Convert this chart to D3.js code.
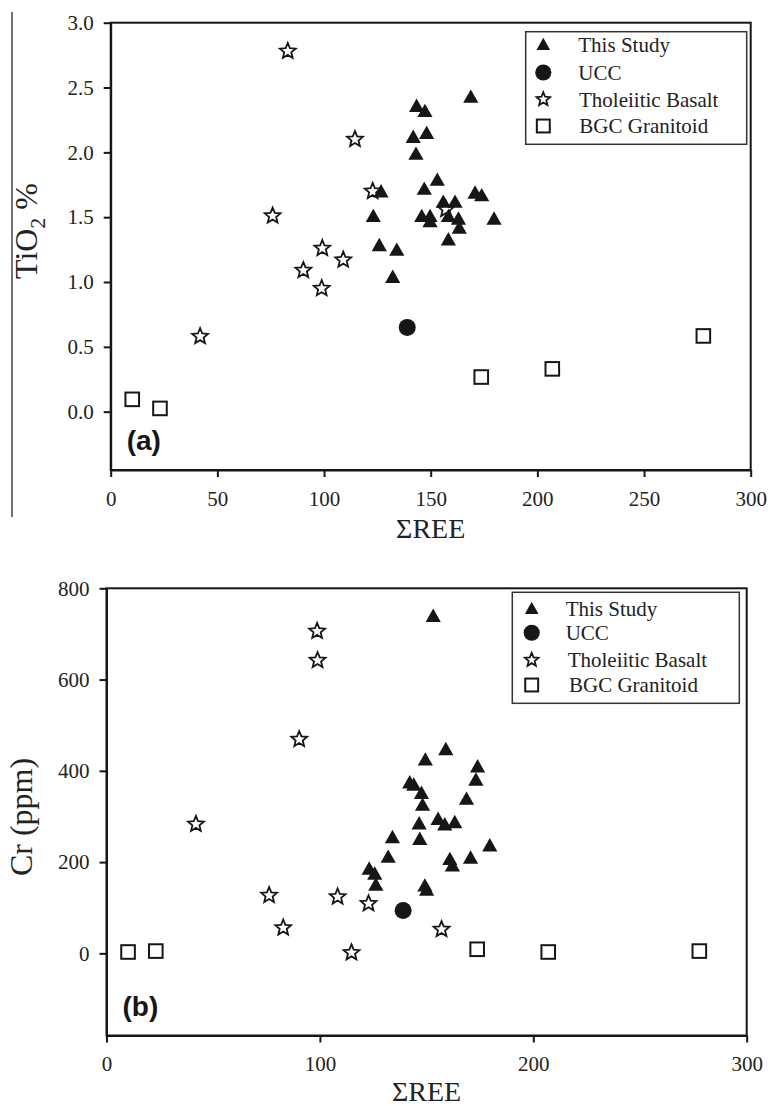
<!DOCTYPE html>
<html><head><meta charset="utf-8">
<script src="https://cdn.jsdelivr.net/npm/d3@7"></script>
<style>
body{margin:0;background:#fff;}
svg{display:block;}
</style></head><body>
<svg id="c" width="768" height="1106"></svg>
<script>
// ---------- tick labels / categories ----------
const xTicksA = [0, 50, 100, 150, 200, 250, 300];
const yTicksA = [0, 0.5, 1.0, 1.5, 2.0, 2.5, 3.0];
const xTicksB = [0, 100, 200, 300];
const yTicksB = [0, 200, 400, 600, 800];
const legendLabels = ["This Study", "UCC", "Tholeiitic Basalt", "BGC Granitoid"];

// ---------- panel (a): TiO2 % vs ΣREE ----------
const aStudyX = [143.4,147.3,141.8,148.1,143.1,126.7,147.0,153.1,123.1,145.8,149.7,149.7,125.9,134.1,132.2,155.9,161.4,158.3,163.0,163.4,158.3,170.8,173.9,179.7,168.8];
const aStudyY = [2.36,2.32,2.12,2.15,1.99,1.70,1.72,1.79,1.51,1.51,1.51,1.47,1.285,1.25,1.04,1.62,1.62,1.51,1.49,1.42,1.33,1.69,1.67,1.49,2.43];
const aUccX = [139.0];
const aUccY = [0.65];
const aBasaltX = [83.0,114.5,122.8,75.9,99.2,109.0,90.3,98.9,41.9,157.2];
const aBasaltY = [2.78,2.10,1.70,1.51,1.26,1.17,1.09,0.95,0.58,1.56];
const aBgcX = [10.1,23.1,173.7,207.0,277.8];
const aBgcY = [0.095,0.025,0.267,0.33,0.584];

// ---------- panel (b): Cr (ppm) vs ΣREE ----------
const bStudyX = [153.1,149.4,142.1,144.0,147.6,148.1,146.5,146.8,134.0,132.0,123.1,125.7,126.2,149.2,150.0,159.0,173.9,173.1,168.7,155.4,158.5,163.2,160.9,162.1,170.6,179.6];
const bStudyY = [740,425,375,370,352,326,285,251,255,212,186,175,151,149,140,448,410,381,339,295,283,288,207,193,210,237];
const bUccX = [139.0];
const bUccY = [94];
const bBasaltX = [98.7,98.9,90.3,41.9,76.2,108.3,122.8,82.8,114.8,157.0];
const bBasaltY = [706,642,469,283,127,124,109,56,1.5,52.6];
const bBgcX = [10.1,23.1,173.7,207.0,277.8];
const bBgcY = [3,5,9,3,5];

const svg = d3.select("#c");
const INK = "#161616";
const SERIF = "'Liberation Serif','Times New Roman',serif";

function starPath(R, r) {
  const pts = [];
  for (let i = 0; i < 10; i++) {
    const rad = i % 2 === 0 ? R : r;
    const ang = -Math.PI / 2 + i * Math.PI / 5;
    pts.push([rad * Math.cos(ang), rad * Math.sin(ang)]);
  }
  return "M" + pts.map(p => p[0].toFixed(2) + "," + p[1].toFixed(2)).join("L") + "Z";
}

function marker(g, type, cx, cy, k) {
  k = k || 1;
  if (type === "tri") {
    g.append("path")
      .attr("d", `M0,${-7.2*k}L${7.6*k},${6.2*k}L${-7.6*k},${6.2*k}Z`)
      .attr("transform", `translate(${cx},${cy})`)
      .attr("fill", INK);
  } else if (type === "circle") {
    g.append("circle").attr("cx", cx).attr("cy", cy).attr("r", 8.5*k).attr("fill", INK);
  } else if (type === "star") {
    g.append("path").attr("d", starPath(8.3*k, 3.7*k))
      .attr("transform", `translate(${cx},${cy})`)
      .attr("fill", "#fff").attr("stroke", INK).attr("stroke-width", 1.8)
      .attr("stroke-linejoin", "miter");
  } else if (type === "square") {
    const s = 13.6*k;
    g.append("rect").attr("x", cx - s/2).attr("y", cy - s/2).attr("width", s).attr("height", s)
      .attr("fill", "#fff").attr("stroke", INK).attr("stroke-width", 2);
  }
}

function panel(cfg) {
  const x = d3.scaleLinear().domain(cfg.xDomain).range([cfg.left, cfg.right]);
  const y = d3.scaleLinear().domain(cfg.yDomain).range([cfg.bottom, cfg.top]);
  const g = svg.append("g");

  // frame
  g.append("rect").attr("x", cfg.left).attr("y", cfg.top)
    .attr("width", cfg.right - cfg.left).attr("height", cfg.bottom - cfg.top)
    .attr("fill", "none").attr("stroke", INK).attr("stroke-width", 2);

  const xa = g.append("g").attr("transform", `translate(0,${cfg.bottom})`)
    .call(d3.axisBottom(x).tickValues(cfg.xTicks).tickSize(7).tickSizeOuter(0).tickPadding(14)
      .tickFormat(d3.format("d")));
  const ya = g.append("g").attr("transform", `translate(${cfg.left},0)`)
    .call(d3.axisLeft(y).tickValues(cfg.yTicks).tickSize(7).tickSizeOuter(0).tickPadding(10)
      .tickFormat(cfg.yFormat));
  [xa, ya].forEach(a => {
    a.attr("font-family", SERIF).attr("font-size", 21);
    a.selectAll(".domain").attr("stroke", INK).attr("stroke-width", 2);
    a.selectAll(".tick line").attr("stroke", INK).attr("stroke-width", 2);
    a.selectAll(".tick text").style("font-family", SERIF).style("font-size", "21px").attr("fill", "#222");
  });

  // points
  const pts = g.append("g");
  cfg.bgcX.forEach((v, i) => marker(pts, "square", x(v), y(cfg.bgcY[i])));
  cfg.basaltX.forEach((v, i) => marker(pts, "star", x(v), y(cfg.basaltY[i])));
  cfg.studyX.forEach((v, i) => marker(pts, "tri", x(v), y(cfg.studyY[i])));
  cfg.uccX.forEach((v, i) => marker(pts, "circle", x(v), y(cfg.uccY[i])));

  // panel letter
  g.append("text").attr("x", cfg.left + 16).attr("y", cfg.bottom - 20)
    .attr("font-family", "'Liberation Sans',Arial,sans-serif").attr("font-weight", "bold")
    .attr("font-size", 28).attr("fill", INK).text(cfg.letter);

  // x title
  g.append("text").attr("x", (cfg.left + cfg.right) / 2).attr("y", cfg.bottom + cfg.xTitleDy)
    .attr("text-anchor", "middle").attr("font-family", SERIF).attr("font-size", 28)
    .attr("fill", "#222").text("ΣREE");

  // y title
  const yt = g.append("text")
    .attr("transform", `translate(${cfg.yTitleX},${cfg.yTitleY}) rotate(-90)`)
    .attr("text-anchor", "middle").attr("font-family", SERIF).attr("font-size", 32)
    .attr("fill", "#222");
  cfg.yTitle(yt);

  // legend
  const L = cfg.legend;
  const lg = g.append("g");
  lg.append("rect").attr("x", L.x0).attr("y", L.y0).attr("width", L.x1 - L.x0).attr("height", L.y1 - L.y0)
    .attr("fill", "#fff").attr("stroke", "#333").attr("stroke-width", 1.5);
  const types = ["tri", "circle", "star", "square"];
  const ks = [0.9, 0.95, 0.85, 0.95];
  legendLabels.forEach((lab, i) => {
    marker(lg, types[i], L.mx, L.rows[i], ks[i]);
    lg.append("text").attr("x", L.tx[i]).attr("y", L.rows[i]).attr("dy", "0.35em")
      .attr("font-family", SERIF).attr("font-size", 21).attr("fill", "#222").text(lab);
  });
}

// thin vertical rule at far left of top panel (from original figure)
svg.append("line").attr("x1", 12).attr("x2", 12).attr("y1", 12).attr("y2", 517)
  .attr("stroke", "#444").attr("stroke-width", 1.5);

panel({
  left: 110.7, right: 750.7, top: 22.7, bottom: 470,
  xDomain: [0, 300], yDomain: [-0.45, 3.0],
  xTicks: xTicksA, yTicks: yTicksA, yFormat: d3.format(".1f"),
  studyX: aStudyX, studyY: aStudyY, uccX: aUccX, uccY: aUccY,
  basaltX: aBasaltX, basaltY: aBasaltY, bgcX: aBgcX, bgcY: aBgcY,
  letter: "(a)", xTitleDy: 68,
  yTitleX: 37, yTitleY: 231,
  yTitle: t => { t.append("tspan").text("TiO");
                 t.append("tspan").attr("font-size", 22).attr("dy", 8).text("2");
                 t.append("tspan").attr("dy", -8).text(" %"); },
  legend: { x0: 525.7, y0: 31.7, x1: 746.7, y1: 144.3, mx: 543.3,
            rows: [44.3, 72.5, 99.3, 126], tx: [578.3, 578.3, 579, 579.3] }
});

panel({
  left: 106.5, right: 746.7, top: 588.3, bottom: 1035.5,
  xDomain: [0, 300], yDomain: [-180, 800],
  xTicks: xTicksB, yTicks: yTicksB, yFormat: d3.format("d"),
  studyX: bStudyX, studyY: bStudyY, uccX: bUccX, uccY: bUccY,
  basaltX: bBasaltX, basaltY: bBasaltY, bgcX: bBgcX, bgcY: bBgcY,
  letter: "(b)", xTitleDy: 65,
  yTitleX: 32, yTitleY: 817,
  yTitle: t => t.text("Cr (ppm)"),
  legend: { x0: 512.3, y0: 592.3, x1: 739.3, y1: 703.3, mx: 531.7,
            rows: [608.3, 632.7, 660, 685], tx: [565.7, 565.7, 567.7, 569] }
});
</script>
</body></html>
